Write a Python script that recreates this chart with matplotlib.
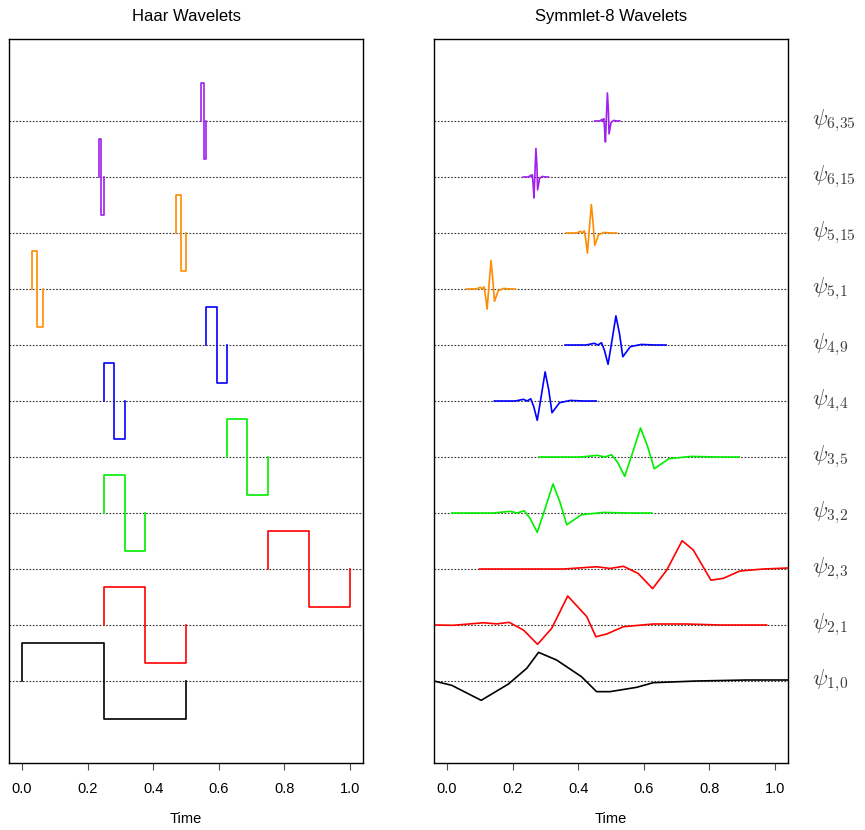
import matplotlib
matplotlib.use("Agg")
import matplotlib.pyplot as plt

plt.rcParams["font.family"] = ["Liberation Sans", "DejaVu Sans"]
plt.rcParams["mathtext.fontset"] = "cm"

# wavelet labels (bottom to top)
labels = [r"$\psi_{1,\!0}$", r"$\psi_{2,\!1}$", r"$\psi_{2,\!3}$", r"$\psi_{3,\!2}$", r"$\psi_{3,\!5}$",
          r"$\psi_{4,\!4}$", r"$\psi_{4,\!9}$", r"$\psi_{5,\!1}$", r"$\psi_{5,\!15}$",
          r"$\psi_{6,\!15}$", r"$\psi_{6,\!35}$"]
colors = ["black", "red", "red", "#00ee00", "#00ee00", "blue", "blue",
          "darkorange", "darkorange", "#a020f0", "#a020f0"]

# Haar supports: start, jump, end
haar_start = [0.0, 0.25, 0.75, 0.25, 0.625, 0.25, 0.5625, 0.03125, 0.46875, 0.234375, 0.546875]
haar_mid = [0.25, 0.375, 0.875, 0.3125, 0.6875, 0.28125, 0.59375, 0.046875, 0.484375, 0.2421875, 0.5546875]
haar_end = [0.5, 0.5, 1.0, 0.375, 0.75, 0.3125, 0.625, 0.0625, 0.5, 0.25, 0.5625]
haar_height = 0.68

# Symmlet-8 curves (x in time, y relative to baseline)
s10_x = [-0.04, 0.014, 0.104, 0.187, 0.243, 0.279, 0.334, 0.41, 0.456, 0.497, 0.578, 0.629, 0.761, 0.914, 1.04]
s10_y = [0.0, -0.077, -0.345, -0.054, 0.227, 0.512, 0.375, 0.077, -0.19, -0.19, -0.113, -0.03, 0.0, 0.018, 0.018]

s21_x = [-0.04, 0.019, 0.111, 0.152, 0.189, 0.233, 0.276, 0.319, 0.368, 0.426, 0.454, 0.487, 0.538, 0.629, 0.73, 0.832, 0.975]
s21_y = [0.0, -0.005, 0.04, 0.02, 0.048, -0.09, -0.345, -0.06, 0.518, 0.15, -0.21, -0.16, -0.03, 0.018, 0.018, 0.0, 0.0]

s23_x = [0.099, 0.355, 0.456, 0.497, 0.538, 0.583, 0.627, 0.67, 0.717, 0.751, 0.805, 0.843, 0.893, 0.965, 1.04]
s23_y = [0.0, 0.0, 0.04, 0.01, 0.048, -0.08, -0.35, -0.02, 0.505, 0.34, -0.2, -0.166, -0.036, 0.0, 0.018]

s32_x = [0.014, 0.141, 0.192, 0.214, 0.235, 0.253, 0.275, 0.299, 0.323, 0.344, 0.365, 0.41, 0.477, 0.558, 0.624]
s32_y = [0.0, 0.0, 0.03, 0.0, 0.04, -0.095, -0.345, 0.08, 0.518, 0.2, -0.21, -0.03, 0.01, 0.0, 0.0]

s35_x = [0.281, 0.408, 0.459, 0.481, 0.502, 0.52, 0.542, 0.566, 0.59, 0.611, 0.632, 0.677, 0.744, 0.825, 0.891]
s35_y = [0.0, 0.0, 0.03, 0.0, 0.04, -0.095, -0.345, 0.08, 0.518, 0.2, -0.21, -0.03, 0.01, 0.0, 0.0]

s44_x = [0.144, 0.208, 0.233, 0.244, 0.255, 0.264, 0.275, 0.287, 0.299, 0.31, 0.32, 0.343, 0.376, 0.417, 0.455]
s44_y = [0.0, 0.0, 0.03, 0.0, 0.04, -0.095, -0.345, 0.08, 0.52, 0.2, -0.21, -0.03, 0.01, 0.0, 0.0]

s49_x = [0.36, 0.424, 0.449, 0.46, 0.471, 0.48, 0.491, 0.503, 0.515, 0.526, 0.536, 0.559, 0.592, 0.633, 0.668]
s49_y = [0.0, 0.0, 0.03, 0.0, 0.04, -0.095, -0.345, 0.08, 0.52, 0.2, -0.21, -0.03, 0.01, 0.0, 0.0]

s51_x = [0.059, 0.089, 0.101, 0.107, 0.112, 0.1165, 0.122, 0.128, 0.134, 0.139, 0.1445, 0.156, 0.1725, 0.193, 0.208]
s51_y = [0.0, 0.0, 0.03, 0.0, 0.04, -0.095, -0.36, 0.08, 0.51, 0.2, -0.22, -0.03, 0.01, 0.0, 0.0]

s515_x = [0.363, 0.395, 0.407, 0.413, 0.418, 0.4225, 0.428, 0.434, 0.44, 0.445, 0.4505, 0.462, 0.4785, 0.499, 0.517]
s515_y = [0.0, 0.0, 0.03, 0.0, 0.04, -0.095, -0.36, 0.08, 0.51, 0.2, -0.22, -0.03, 0.01, 0.0, 0.0]

s615_x = [0.232, 0.248, 0.255, 0.257, 0.26, 0.262, 0.265, 0.268, 0.271, 0.274, 0.276, 0.282, 0.29, 0.3, 0.309]
s615_y = [0.0, 0.0, 0.03, 0.0, 0.04, -0.095, -0.375, 0.08, 0.51, 0.2, -0.23, -0.03, 0.01, 0.0, 0.0]

s635_x = [0.45, 0.466, 0.473, 0.475, 0.478, 0.48, 0.483, 0.486, 0.489, 0.492, 0.494, 0.5, 0.508, 0.518, 0.527]
s635_y = [0.0, 0.0, 0.03, 0.0, 0.04, -0.095, -0.375, 0.08, 0.5, 0.2, -0.23, -0.03, 0.01, 0.0, 0.0]

sym_x = [s10_x, s21_x, s23_x, s32_x, s35_x, s44_x, s49_x, s51_x, s515_x, s615_x, s635_x]
sym_y = [s10_y, s21_y, s23_y, s32_y, s35_y, s44_y, s49_y, s51_y, s515_y, s615_y, s635_y]

fig = plt.figure(figsize=(8.65, 8.3), dpi=100)
ax1 = fig.add_axes([9 / 865, 67 / 830, 354 / 865, 724 / 830])
ax2 = fig.add_axes([434 / 865, 67 / 830, 354 / 865, 724 / 830])

for i in range(len(labels)):
    base = i + 1
    for ax in (ax1, ax2):
        ax.axhline(base, color="0.2", lw=0.8, ls=(0, (1.5, 1.5)), zorder=1)
    a, m, b = haar_start[i], haar_mid[i], haar_end[i]
    ax1.plot([a, a, m, m, b, b],
             [base, base + haar_height, base + haar_height, base - haar_height, base - haar_height, base],
             color=colors[i], lw=1.2, zorder=2)
    ax2.plot(sym_x[i], [base + v for v in sym_y[i]], color=colors[i], lw=1.2, zorder=2)
    ax2.text(1.068, base, labels[i], transform=ax2.get_yaxis_transform(), fontsize=16,
             ha="left", va="center", color="0.25", clip_on=False)

for ax, title in ((ax1, "Haar Wavelets"), (ax2, "Symmlet-8 Wavelets")):
    ax.set_xlim(-0.04, 1.04)
    ax.set_ylim(-0.464, 12.464)
    ax.set_yticks([])
    ax.set_xticks([0.0, 0.2, 0.4, 0.6, 0.8, 1.0])
    ax.set_xticklabels(["0.0", "0.2", "0.4", "0.6", "0.8", "1.0"])
    ax.tick_params(axis="x", length=5, width=0.8, pad=9, labelsize=10.5, color="0.3")
    ax.set_xlabel("Time", fontsize=10.5, labelpad=11)
    ax.set_title(title, fontsize=12, pad=13)
    for sp in ax.spines.values():
        sp.set_linewidth(1.0)

fig.savefig("out.png", dpi=100)
